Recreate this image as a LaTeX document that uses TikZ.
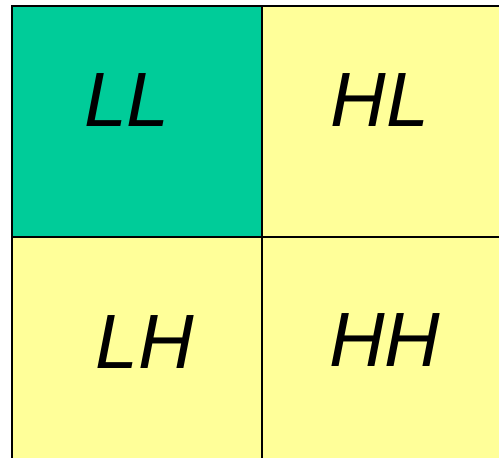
\documentclass[tikz,border=0pt]{standalone}
\usepackage{fontspec}
\setmainfont{Liberation Sans}
\begin{document}
\begin{tikzpicture}[x=1pt,y=-1pt,
  cell/.style={line width=2pt,draw=black},
  lbl/.style={anchor=base,inner sep=0pt,font=\fontsize{77}{77}\selectfont\itshape}]
\definecolor{cgreen}{HTML}{00CC99}
\definecolor{cyellow}{HTML}{FFFF99}
\useasboundingbox (0,0) rectangle (499,458);
\fill[white] (0,0) rectangle (499,458);
\begin{scope}
\clip (0,0) rectangle (499,458);
\path[cell,fill=cgreen]  (12,6) rectangle (262,237);
\path[cell,fill=cyellow] (262,6) rectangle (520,237);
\path[cell,fill=cyellow] (12,237) rectangle (262,480);
\path[cell,fill=cyellow] (262,237) rectangle (520,480);
\end{scope}
\node[lbl] (ll) at (127,126) {LL};
\node[lbl] (hl) at (380,126) {HL};
\node[lbl] (lh) at (145,368) {LH};
\node[lbl] (hh) at (385,366) {HH};
\end{tikzpicture}
\end{document}
